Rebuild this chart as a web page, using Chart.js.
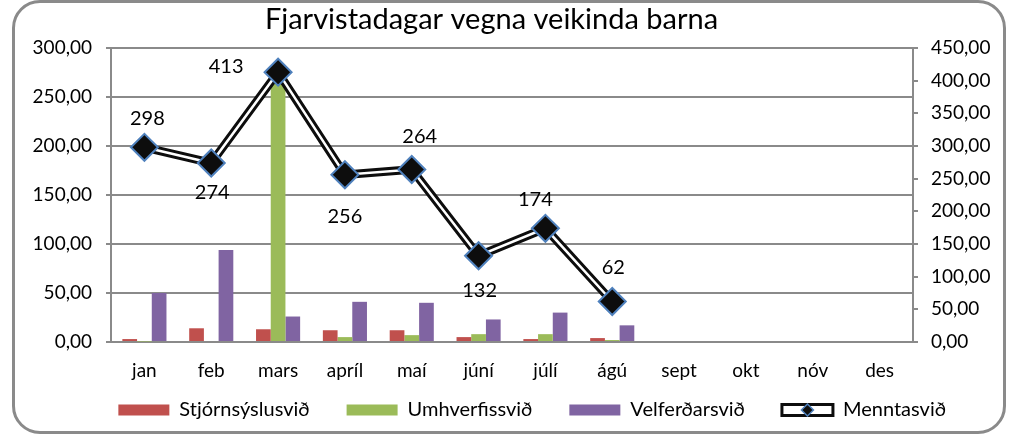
<!DOCTYPE html>
<html>
<head>
<meta charset="utf-8">
<script src="https://cdn.jsdelivr.net/npm/chart.js@4.4.1/dist/chart.umd.min.js"></script>
<style>
  html, body { margin: 0; padding: 0; background: #fff; }
  #frame {
    position: absolute; left: 12px; top: 0px; width: 994px; height: 434px;
    box-sizing: border-box; border: 3px solid #8a8a8a; border-radius: 28px; background: #fff;
  }
  #wrap { position: absolute; left: 0; top: 0; width: 1014px; height: 437px; }
</style>
</head>
<body>
<div id="frame"></div>
<div id="wrap"><canvas id="chart" width="1014" height="437"></canvas></div>
<script>
// Fjarvistadagar vegna veikinda barna - monthly values per department
const months = ['jan', 'feb', 'mars', 'apríl', 'maí', 'júní', 'júlí', 'ágú', 'sept', 'okt', 'nóv', 'des'];
const stjornsyslusvid = [3, 14, 13, 12, 12, 5, 3, 4, null, null, null, null];
const umhverfissvid = [0.5, 0, 270, 5, 7, 8, 8, 2, null, null, null, null];
const velferdarsvid = [50, 94, 26, 41, 40, 23, 30, 17, null, null, null, null];
const menntasvid = [298, 274, 413, 256, 264, 132, 174, 62, null, null, null, null];

const gray = '#8a8a8a';
const font = "Lato, 'Open Sans', sans-serif";
const fmt = v => Number(v).toFixed(2).replace('.', ',');

// where each line value label sits relative to its marker (dx, dy)
const labelOffsets = [[3, -29], [1, 30], [-52, -6], [0, 42], [8, -33], [1, 35], [-10, -29], [1, -34]];

const lineLabels = {
    id: 'lineLabels',
    beforeDraw(chart) {
        // axis boxes are kept tight for layout; don't clip their labels to them
        chart.scales.x._computeLabelArea = () => undefined;
        chart.scales.y1._computeLabelArea = () => undefined;
    },
    afterDatasetsDraw(chart) {
        const meta = chart.getDatasetMeta(3);
        const ctx = chart.ctx;
        ctx.save();
        ctx.font = '20px ' + font;
        ctx.fillStyle = '#000';
        ctx.textAlign = 'center';
        ctx.textBaseline = 'middle';
        meta.data.forEach((pt, i) => {
            const v = menntasvid[i];
            if (v === null) return;
            const off = labelOffsets[i] || [0, -30];
            ctx.fillText(String(v), pt.x + off[0], pt.y + off[1]);
        });
        ctx.restore();
    },
    afterDraw(chart) {
        // small diamond on the Menntasvið legend icon
        const lg = chart.legend;
        if (!lg || !lg.legendHitBoxes) return;
        const idx = lg.legendItems.findIndex(it => it.datasetIndex === 3);
        const hb = lg.legendHitBoxes[idx];
        if (!hb) return;
        const bw = lg.options.labels.boxWidth;
        const cx = hb.left + bw / 2, cy = hb.top + hb.height / 2;
        const ctx = chart.ctx;
        ctx.save();
        ctx.beginPath();
        ctx.moveTo(cx, cy - 6); ctx.lineTo(cx + 6, cy); ctx.lineTo(cx, cy + 6); ctx.lineTo(cx - 6, cy);
        ctx.closePath();
        ctx.fillStyle = '#111';
        ctx.fill();
        ctx.lineWidth = 1.5;
        ctx.strokeStyle = '#4f81bd';
        ctx.stroke();
        ctx.restore();
    }
};

Chart.defaults.font.family = font;
Chart.defaults.color = '#000';

new Chart(document.getElementById('chart'), {
    type: 'bar',
    data: {
        labels: months,
        datasets: [{
            label: 'Stjórnsýslusvið',
            data: stjornsyslusvid,
            backgroundColor: '#c0504d',
            borderWidth: 0,
            yAxisID: 'y',
            order: 3
        }, {
            label: 'Umhverfissvið',
            data: umhverfissvid,
            backgroundColor: '#9bbb59',
            borderWidth: 0,
            yAxisID: 'y',
            order: 3
        }, {
            label: 'Velferðarsvið',
            data: velferdarsvid,
            backgroundColor: '#8064a2',
            borderWidth: 0,
            yAxisID: 'y',
            order: 3
        }, {
            type: 'line',
            label: 'Menntasvið',
            data: menntasvid,
            borderColor: '#ffffff',
            backgroundColor: '#ffffff',
            borderWidth: 2.5,
            tension: 0,
            pointStyle: 'rectRot',
            pointRadius: 13.5,
            pointHoverRadius: 13.5,
            pointBackgroundColor: '#0d0d0d',
            pointBorderColor: '#4f81bd',
            pointBorderWidth: 2,
            yAxisID: 'y1',
            order: 1
        }, {
            // black outline under the white line gives the double-line look
            type: 'line',
            label: 'outline',
            data: menntasvid,
            borderColor: '#0d0d0d',
            borderWidth: 8.5,
            tension: 0,
            pointRadius: 0,
            yAxisID: 'y1',
            order: 2
        }]
    },
    options: {
        responsive: false,
        animation: false,
        layout: { padding: { left: 0, right: 31, top: 0, bottom: 7 } },
        datasets: {
            bar: { categoryPercentage: 0.66, barPercentage: 1.0 }
        },
        plugins: {
            title: {
                display: true,
                text: 'Fjarvistadagar vegna veikinda barna',
                color: '#000',
                font: { size: 29, weight: 'normal' },
                padding: { top: 2, bottom: 11.2 }
            },
            legend: {
                position: 'bottom',
                align: 'end',
                labels: {
                    boxWidth: 51,
                    boxHeight: 11,
                    padding: 37,
                    color: '#000',
                    font: { size: 20 },
                    sort: (a, b) => a.datasetIndex - b.datasetIndex,
                    filter: item => item.datasetIndex !== 4,
                    generateLabels: function (chart) {
                        const items = Chart.defaults.plugins.legend.labels.generateLabels(chart);
                        items.forEach(it => {
                            if (it.datasetIndex === 3) {
                                it.fillStyle = '#ffffff';
                                it.strokeStyle = '#0d0d0d';
                                it.lineWidth = 3;
                            }
                        });
                        return items;
                    }
                }
            },
            tooltip: { enabled: false }
        },
        scales: {
            x: {
                grid: { display: false, drawTicks: false },
                border: { display: true, color: gray, width: 2 },
                ticks: { padding: 17, font: { size: 19 }, color: '#000' },
                afterFit: scale => { scale.height = 21; }
            },
            y: {
                position: 'left',
                min: 0,
                max: 300,
                ticks: { stepSize: 50, padding: 14, font: { size: 19 }, color: '#000', callback: v => fmt(v) },
                grid: { color: gray, lineWidth: 2, tickLength: 5 },
                border: { display: true, color: gray, width: 2 },
                afterFit: scale => { scale.width = 111; }
            },
            y1: {
                position: 'right',
                min: 0,
                max: 450,
                ticks: { stepSize: 50, padding: 13, font: { size: 19 }, color: '#000', callback: v => fmt(v) },
                grid: { drawOnChartArea: false, color: gray, lineWidth: 2, tickLength: 5 },
                border: { display: true, color: gray, width: 2 },
                afterFit: scale => { scale.width = 70; }
            }
        }
    },
    plugins: [lineLabels]
});
</script>
</body>
</html>
